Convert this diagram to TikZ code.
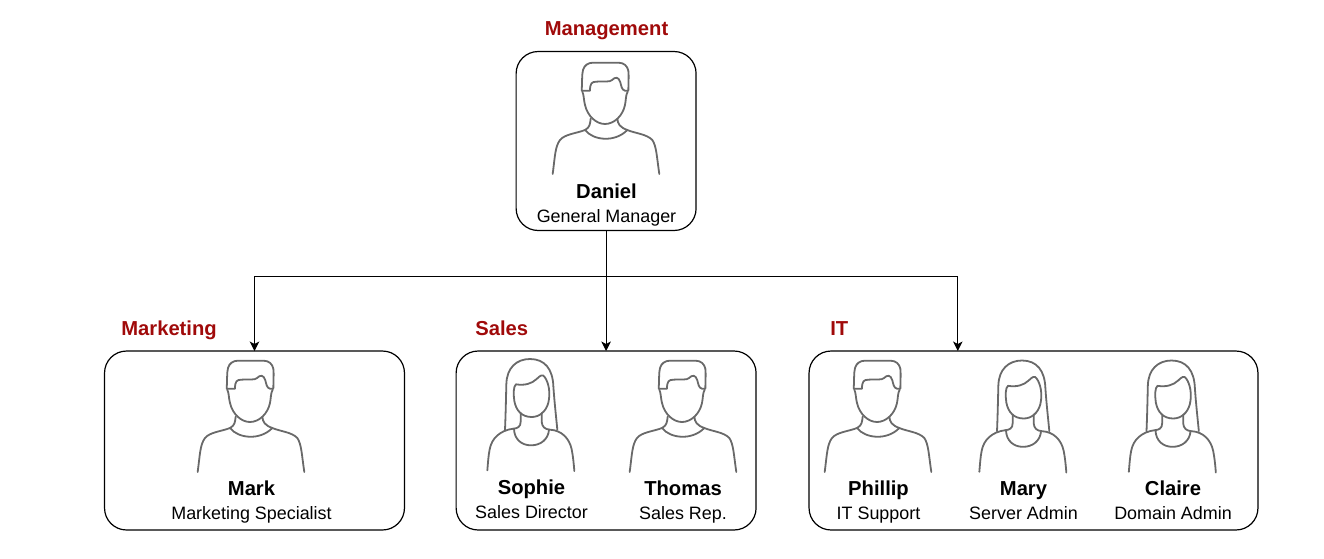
\documentclass[tikz,border=0pt]{standalone}
\usepackage{fontspec}
\setmainfont{Liberation Sans}
\usetikzlibrary{arrows.meta,positioning}
\definecolor{deptred}{RGB}{160,10,10}
\definecolor{icongray}{RGB}{105,105,105}
\tikzset{
  teambox/.style={draw=black, line width=0.024cm, rounded corners=0.44cm, minimum height=3.58cm, inner sep=0pt, outer sep=0pt},
  deptlabel/.style={font=\fontsize{11.5}{13}\selectfont\bfseries, text=deptred, anchor=base west, inner sep=0pt},
  namelabel/.style={font=\fontsize{11.5}{13}\selectfont\bfseries, anchor=base, inner sep=0pt},
  rolelabel/.style={font=\fontsize{10.2}{13}\selectfont, anchor=base, inner sep=0pt},
  iconline/.style={draw=icongray, line width=0.036cm, line join=round, line cap=round},
  link/.style={draw=black, line width=0.022cm, -{Stealth[length=1.9mm,width=1.9mm,inset=0.5mm]}},
  man/.pic={
    \begin{scope}[shift={(-66,0)},scale=1/3]
    % hair
    \draw[iconline] (125,122) .. controls (127,100) and (125,75) .. (129,60) .. controls (133,45) and (145,38) .. (160,38)
      -- (235,38) .. controls (252,38) and (262,48) .. (265,62) .. controls (267,80) and (265,100) .. (265,122)
      -- (255,122) .. controls (245,120) and (244,108) .. (241,97) .. controls (236,80) and (226,80) .. (216,90)
      .. controls (210,97) and (195,93) .. (170,95) .. controls (155,95) and (150,100) .. (150,122) -- cycle;
    % face
    \draw[iconline] (127,125) .. controls (132,135) and (131,150) .. (135,165) .. controls (143,200) and (170,222) .. (195,222)
      .. controls (222,222) and (248,198) .. (255,165) .. controls (258,150) and (257,135) .. (263,125);
    % neck and shoulders
    \draw[iconline] (152,206) .. controls (150,222) and (150,232) .. (135,240) .. controls (110,250) and (75,252) .. (60,270)
      .. controls (45,290) and (45,320) .. (38,372);
    \draw[iconline] (232,206) .. controls (233,222) and (240,232) .. (262,240) .. controls (285,250) and (320,252) .. (337,270)
      .. controls (350,290) and (350,320) .. (358,372);
    \draw[iconline] (135,240) .. controls (160,272) and (225,278) .. (262,240);
    \end{scope}
  },
  woman/.pic={
    \begin{scope}[shift={(-51,0)},scale=1/3]
    % hair
    \draw[iconline] (75,236) .. controls (77,190) and (78,140) .. (79,100) .. controls (80,50) and (110,24) .. (150,24)
      .. controls (195,24) and (218,55) .. (220,105) .. controls (223,150) and (228,195) .. (232,236);
    % face
    \draw[iconline] (108,100) .. controls (135,104) and (155,98) .. (170,84) .. controls (180,74) and (188,68) .. (194,78)
      .. controls (206,95) and (212,125) .. (205,155) .. controls (198,182) and (178,198) .. (155,198)
      .. controls (125,198) and (108,178) .. (103,150) .. controls (100,130) and (100,105) .. (108,100) -- cycle;
    % neck and shoulders
    \draw[iconline] (122,186) -- (122,212) .. controls (122,228) and (112,232) .. (100,233) .. controls (60,238) and (35,262) .. (29,295)
      .. controls (25,315) and (24,335) .. (22,358);
    \draw[iconline] (185,186) -- (185,212) .. controls (186,228) and (195,235) .. (210,236) .. controls (245,238) and (268,262) .. (275,295)
      .. controls (279,315) and (281,335) .. (283,360);
    \draw[iconline] (102,234) .. controls (103,265) and (125,283) .. (153,283) .. controls (182,283) and (205,265) .. (207,236);
    \end{scope}
  }
}
\begin{document}
\begin{tikzpicture}[x=0.02cm,y=-0.02cm]
\useasboundingbox (0,0) rectangle (1324,558);
% Team boxes
\node[teambox, minimum width=3.6cm] (danielbox) at (606.1,141) {};
\node[teambox, minimum width=6cm] (markbox) at (254.5,440.5) {};
\node[teambox, minimum width=6cm] (salesbox) at (606.1,440.5) {};
\node[teambox, minimum width=8.98cm] (itbox) at (1033.5,440.5) {};
\coordinate (itentry) at (957.8,351);
% Department labels
\node[deptlabel, anchor=base] (mgmtlabel) at (606.5,35) {Management};
\node[deptlabel] (marketinglabel) at (121,335) {Marketing};
\node[deptlabel] (saleslabel) at (475,335) {Sales};
\node[deptlabel] (itlabel) at (830,335) {IT};
% People icons
\pic at (606,50) {man};
\pic at (251,348) {man};
\pic at (531,351) {woman};
\pic at (683,348) {man};
\pic at (878,348) {man};
\pic at (1023,352.5) {woman};
\pic at (1172.5,352.5) {woman};
% Names and roles
\node[namelabel] (danielname) at (606.5,198) {Daniel};
\node[rolelabel] (danielrole) at (606.5,222) {General Manager};
\node[namelabel] (markname) at (251.5,495) {Mark};
\node[rolelabel] (markrole) at (251.5,519) {Marketing Specialist};
\node[namelabel] (sophiename) at (531.5,494) {Sophie};
\node[rolelabel] (sophierole) at (531.5,518) {Sales Director};
\node[namelabel] (thomasname) at (683,495) {Thomas};
\node[rolelabel] (thomasrole) at (683,519) {Sales Rep.};
\node[namelabel] (phillipname) at (878.5,495) {Phillip};
\node[rolelabel] (philliprole) at (878.5,519) {IT Support};
\node[namelabel] (maryname) at (1023.5,495) {Mary};
\node[rolelabel] (maryrole) at (1023.5,519) {Server Admin};
\node[namelabel] (clairename) at (1173,495) {Claire};
\node[rolelabel] (clairerole) at (1173,519) {Domain Admin};
% Arrows
\draw[link] (danielbox.south) -- ++(0,46) -| (markbox.north);
\draw[link] (danielbox.south) -- (salesbox.north);
\draw[link] (danielbox.south) -- ++(0,46) -| (itentry);
\end{tikzpicture}
\end{document}
